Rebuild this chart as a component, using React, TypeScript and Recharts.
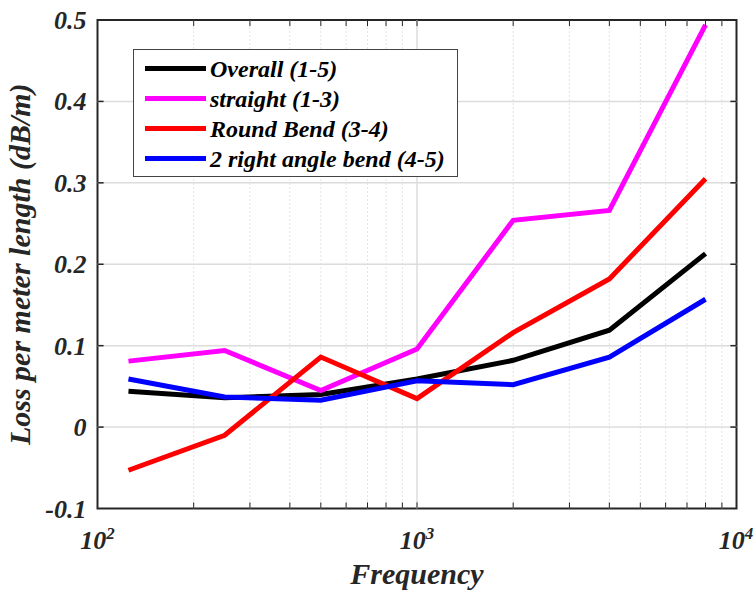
import React from 'react';
import { LineChart, Line, XAxis, YAxis, ReferenceLine, ReferenceArea, Legend } from 'recharts';

const frequencies = [125, 250, 500, 1000, 2000, 4000, 8000];
const overall = [0.044, 0.036, 0.040, 0.059, 0.082, 0.119, 0.213];
const straight = [0.081, 0.094, 0.045, 0.096, 0.254, 0.266, 0.494];
const roundBend = [-0.053, -0.010, 0.086, 0.035, 0.116, 0.182, 0.305];
const rightAngle = [0.059, 0.037, 0.033, 0.057, 0.052, 0.086, 0.157];

const xTicks = [100, 1000, 10000];
const xMinor = [200, 300, 400, 500, 600, 700, 800, 900, 2000, 3000, 4000, 5000, 6000, 7000, 8000, 9000];
const yTicks = [-0.1, 0, 0.1, 0.2, 0.3, 0.4, 0.5];

const seriesDefs = [
  { key: 'overall', name: 'Overall (1-5)', color: '#000000', values: overall },
  { key: 'straight', name: 'straight (1-3)', color: '#ff00ff', values: straight },
  { key: 'round', name: 'Round Bend (3-4)', color: '#ff0000', values: roundBend },
  { key: 'right', name: '2 right angle bend (4-5)', color: '#0000ff', values: rightAngle },
];

const data = frequencies.map((f, i) => {
  const row: any = { f };
  seriesDefs.forEach((s) => (row[s.key] = s.values[i]));
  return row;
});

const FONT = '"Liberation Serif", "Times New Roman", serif';
const TXT = '#262626';

const XTick = (props: any) => {
  const { x, y, payload } = props;
  const exp = Math.round(Math.log10(payload.value));
  return (
    <text x={x} y={y + 32.5} textAnchor="middle" fontFamily={FONT} fontWeight="bold" fontStyle="italic" fontSize={26} fill={TXT}>
      <tspan>10</tspan>
      <tspan dy={-10} fontSize={17}>{exp}</tspan>
    </text>
  );
};

const YTick = (props: any) => {
  const { x, y, payload } = props;
  const v = payload.value;
  const label = v === 0 ? '0' : String(Math.round(v * 10) / 10);
  return (
    <text x={x - 3} y={y + 9} textAnchor="end" fontFamily={FONT} fontWeight="bold" fontStyle="italic" fontSize={26} fill={TXT}>
      {label}
    </text>
  );
};

const YLabel = (props: any) => {
  const vb = props.viewBox || { x: 0, y: 20, width: 98, height: 488 };
  const cx = vb.x + 30;
  const cy = vb.y + vb.height / 2;
  return (
    <text x={cx} y={cy} transform={`rotate(-90, ${cx}, ${cy})`} textAnchor="middle" fontFamily={FONT} fontWeight="bold" fontStyle="italic" fontSize={30} fill={TXT}>
      Loss per meter length (dB/m)
    </text>
  );
};

const XLabel = (props: any) => {
  const vb = props.viewBox || { x: 98, y: 508, width: 639, height: 84 };
  const cx = vb.x + vb.width / 2;
  const cy = vb.y + 75;
  return (
    <text x={cx} y={cy} textAnchor="middle" fontFamily={FONT} fontWeight="bold" fontStyle="italic" fontSize={30} fill={TXT}>
      Frequency
    </text>
  );
};

const LegendContent = () => (
  <div
    style={{
      width: 325,
      height: 128,
      boxSizing: 'border-box',
      border: '1px solid #444',
      background: '#fff',
      position: 'relative',
      fontFamily: FONT,
      fontWeight: 'bold',
      fontStyle: 'italic',
      fontSize: 24,
      color: '#000',
    }}
  >
    {seriesDefs.map((s, i) => (
      <div key={s.key} style={{ position: 'absolute', left: 0, top: 18.5 + i * 30 - 14, height: 28, lineHeight: '28px', display: 'flex', alignItems: 'center', whiteSpace: 'nowrap' }}>
        <div style={{ marginLeft: 11, width: 61, height: 5, background: s.color }} />
        <span style={{ marginLeft: 4 }}>{s.name}</span>
      </div>
    ))}
  </div>
);

const kx = 1.045;
const dy = 0.0075;

export default function App() {
  return (
    <div style={{ position: 'absolute', left: 0, top: 0, width: 756, height: 592, background: '#fff' }}>
      <LineChart width={756} height={592} data={data} margin={{ top: 20, right: 19.5, left: 0, bottom: 0 }}>
        <XAxis
          dataKey="f"
          type="number"
          scale="log"
          domain={[100, 10000]}
          ticks={xTicks}
          tick={<XTick />}
          tickLine={false}
          axisLine={false}
          height={83.5}
          allowDataOverflow
          label={<XLabel />}
        />
        <YAxis
          type="number"
          domain={[-0.1, 0.5]}
          ticks={yTicks}
          tick={<YTick />}
          tickLine={false}
          axisLine={false}
          width={97.5}
          allowDataOverflow
          label={<YLabel />}
        />
        {xMinor.map((v) => (
          <ReferenceLine key={'xm' + v} x={v} stroke="#c8c8c8" strokeWidth={1} strokeDasharray="1 3" />
        ))}
        {yTicks.slice(1, -1).map((v) => (
          <ReferenceLine key={'yg' + v} y={v} stroke="#dcdcdc" strokeWidth={1.5} />
        ))}
        <ReferenceLine x={1000} stroke="#dcdcdc" strokeWidth={1.5} />
        {seriesDefs.map((s) => (
          <Line key={s.key} dataKey={s.key} name={s.name} stroke={s.color} strokeWidth={5} dot={false} isAnimationActive={false} strokeLinejoin="miter" />
        ))}
        {[...xMinor, 1000].map((v) => (
          <ReferenceLine key={'tb' + v} segment={[{ x: v, y: -0.1 }, { x: v, y: -0.1 + dy }]} stroke={TXT} strokeWidth={1} />
        ))}
        {[...xMinor, 1000].map((v) => (
          <ReferenceLine key={'tt' + v} segment={[{ x: v, y: 0.5 }, { x: v, y: 0.5 - dy }]} stroke={TXT} strokeWidth={1} />
        ))}
        {yTicks.slice(1, -1).map((v) => (
          <ReferenceLine key={'tl' + v} segment={[{ x: 100, y: v }, { x: 100 * kx, y: v }]} stroke={TXT} strokeWidth={1.5} />
        ))}
        {yTicks.slice(1, -1).map((v) => (
          <ReferenceLine key={'tr' + v} segment={[{ x: 10000 / kx, y: v }, { x: 10000, y: v }]} stroke={TXT} strokeWidth={1.5} />
        ))}
        <ReferenceArea x1={100} x2={10000} y1={-0.1} y2={0.5} fill="none" fillOpacity={0} stroke={TXT} strokeWidth={2} />
        <Legend layout="vertical" align="center" verticalAlign="middle" content={<LegendContent />} wrapperStyle={{ left: 133, top: 49, width: 325, height: 128 }} />
      </LineChart>
    </div>
  );
}
